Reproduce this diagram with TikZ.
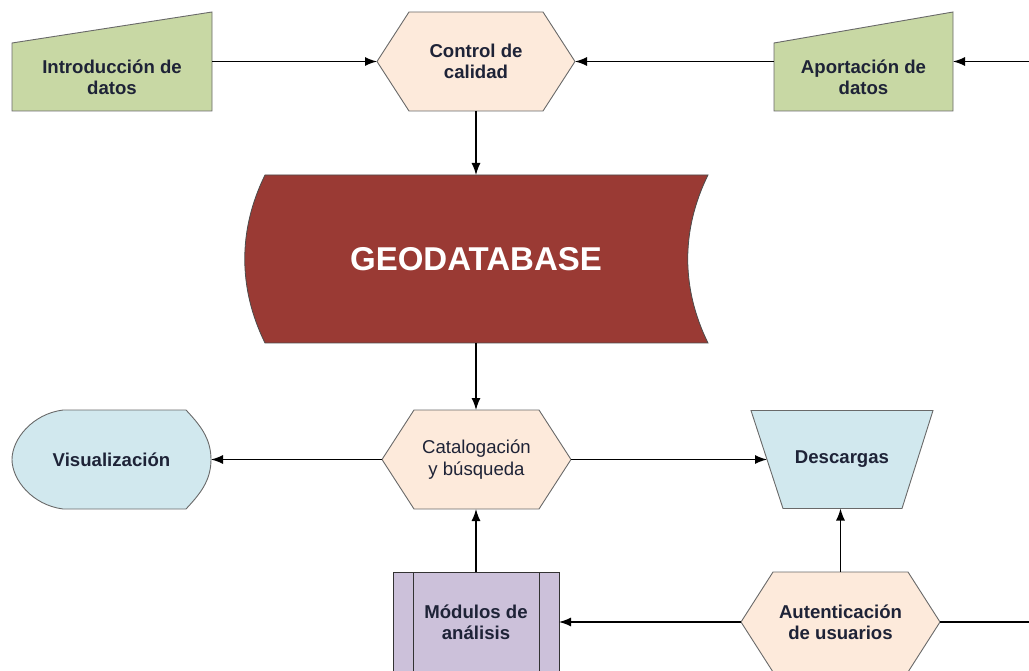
\documentclass[tikz,border=0pt]{standalone}
\usepackage{fontspec}
\setmainfont{Liberation Sans}
\usepackage{tikz}
\usetikzlibrary{arrows.meta,backgrounds}

\definecolor{inputgreen}{RGB}{200,216,164}
\definecolor{procpeach}{RGB}{253,234,219}
\definecolor{dbred}{RGB}{154,58,52}
\definecolor{outblue}{RGB}{209,232,238}
\definecolor{modlilac}{RGB}{204,193,218}
\definecolor{edgegray}{RGB}{105,105,105}
\definecolor{txtnavy}{RGB}{30,35,55}

\tikzset{
  lbl/.style={align=center, text=txtnavy, inner sep=0pt, outer sep=0pt,
              font=\bfseries\fontsize{18.6}{21}\selectfont},
  flow/.style={-{Latex[length=12pt,width=9pt]}, line width=1.3pt},
  shp/.style={draw=edgegray, line width=0.9pt}
}

% hexagon round a node, #2 = depth of the side points
\newcommand{\hexa}[2]{(#1.west) -- ([xshift=#2]#1.north west) -- ([xshift=-#2]#1.north east) -- (#1.east) -- ([xshift=-#2]#1.south east) -- ([xshift=#2]#1.south west) -- cycle}

\begin{document}
\begin{tikzpicture}[x=1pt,y=-1pt]
  \useasboundingbox (0,0) rectangle (1029,671);

  % Top row
  \node[lbl, minimum width=200pt, minimum height=68pt] (intro) at (112,77) {Introducción de\\datos};
  \node[lbl, minimum width=198pt, minimum height=99pt] (ctrl) at (476,61.5) {Control de\\calidad};
  \node[lbl, minimum width=179pt, minimum height=68pt] (aport) at (863.5,77) {Aportación de\\datos};
  \coordinate (inR) at (1029,61.5);

  % Store
  \node[lbl, text=white, font=\bfseries\fontsize{33}{36}\selectfont,
        minimum width=422pt, minimum height=168pt] (geo) at (476,259) {GEODATABASE};

  % Middle row
  \node[lbl, minimum width=199pt, minimum height=99pt] (visu) at (111.5,459.5) {Visualización};
  \node[lbl, font=\fontsize{18.6}{22}\selectfont,
        minimum width=189pt, minimum height=99pt] (cat) at (476.5,459.5) {Catalogación\\y búsqueda};
  \node[lbl, minimum width=150pt, minimum height=98pt] (desc) at (842,459.5) {Descargas};

  % Bottom row
  \node[lbl, minimum width=166pt, minimum height=100pt] (modu) at (476,622) {Módulos de\\análisis};
  \node[lbl, minimum width=199pt, minimum height=100pt] (auth) at (840.5,622) {Autenticación\\de usuarios};
  \coordinate (outR) at (1029,622);

  % Shapes
  \begin{scope}[on background layer]
    \foreach \m in {intro,aport}
      \filldraw[shp, fill=inputgreen] (\m.north west) -- ([yshift=31pt]\m.north east) -- (\m.south east) -- (\m.south west) -- cycle;

    \foreach \h in {ctrl,cat,auth}
      \filldraw[shp, fill=procpeach] \hexa{\h}{32pt};

    \filldraw[draw=black!70, line width=0.8pt, fill=dbred]
      (geo.north west) -- ([xshift=21pt]geo.north east)
      .. controls ([shift={(-6,55)}]geo.north east) and ([shift={(-6,-55)}]geo.south east) .. ([xshift=21pt]geo.south east)
      -- (geo.south west)
      .. controls ([shift={(-27,-55)}]geo.south west) and ([shift={(-27,55)}]geo.north west) .. (geo.north west) -- cycle;

    \filldraw[shp, fill=outblue]
      ([xshift=51pt]visu.north west) -- ([xshift=-25pt]visu.north east)
      .. controls ([shift={(-12,14)}]visu.north east) and ([shift={(0,-22)}]visu.east) .. (visu.east)
      .. controls ([shift={(0,22)}]visu.east) and ([shift={(-12,-14)}]visu.south east) .. ([xshift=-25pt]visu.south east)
      -- ([xshift=51pt]visu.south west)
      .. controls ([shift={(20,-4)}]visu.south west) and ([shift={(0,20)}]visu.west) .. (visu.west)
      .. controls ([shift={(0,-20)}]visu.west) and ([shift={(20,4)}]visu.north west) .. ([xshift=51pt]visu.north west) -- cycle;

    \filldraw[shp, fill=outblue]
      ([xshift=-16pt]desc.north west) -- ([xshift=16pt]desc.north east)
      -- ([xshift=-15pt]desc.south east) -- ([xshift=16pt]desc.south west) -- cycle;

    \filldraw[draw=black!80, line width=1pt, fill=modlilac] (modu.north west) rectangle ([yshift=-4pt]modu.south east);
    \draw[black!80, line width=1pt] ([xshift=20pt]modu.north west) -- ([xshift=20pt,yshift=-4pt]modu.south west)
                                    ([xshift=-20pt]modu.north east) -- ([xshift=-20pt,yshift=-4pt]modu.south east);
  \end{scope}

  % Flows
  \draw[flow] (intro.east |- ctrl.west) -- (ctrl.west);
  \draw[flow] (inR) -- (aport.east |- inR);
  \draw[flow] (aport.west |- ctrl.east) -- (ctrl.east);
  \draw[flow] (ctrl.south) -- (geo.north);
  \draw[flow] (geo.south) -- (cat.north -| geo.south);
  \draw[flow] (cat.west) -- (visu.east);
  \draw[flow] (cat.east) -- (desc.west);
  \draw[flow] (modu.north) -- (modu.north |- cat.south);
  \draw[flow] (auth.west) -- (modu.east);
  \draw[flow] (auth.north) -- (auth.north |- desc.south);
  \draw[line width=1.3pt] (auth.east) -- (outR);
\end{tikzpicture}
\end{document}
